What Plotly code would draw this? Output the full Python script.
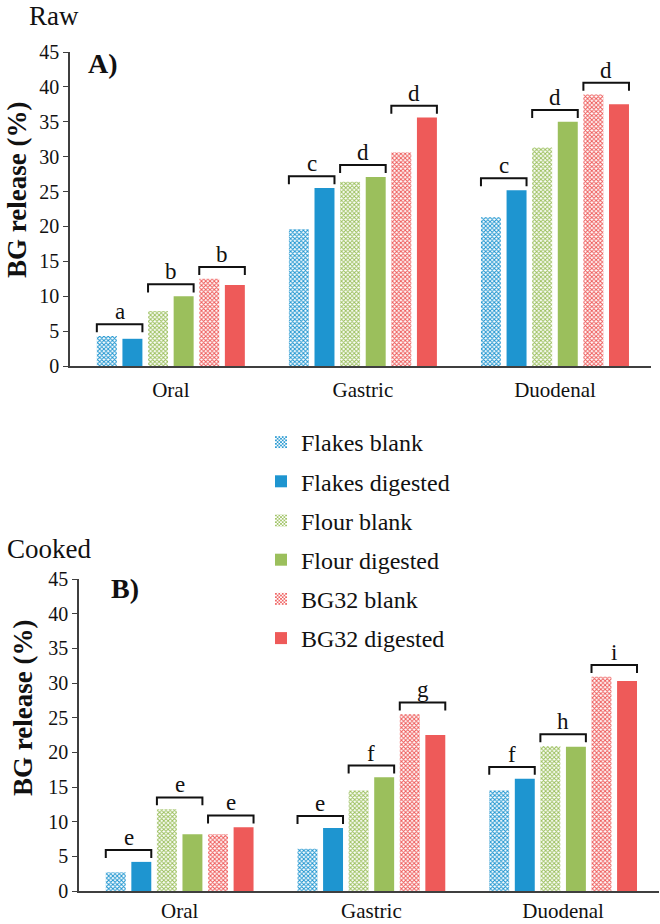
import plotly.graph_objects as go

# ---------------- data ----------------
stages = ["Oral", "Gastric", "Duodenal"]
series_names = ["Flakes blank", "Flakes digested", "Flour blank",
                "Flour digested", "BG32 blank", "BG32 digested"]

# values per series (Oral, Gastric, Duodenal)
raw_flakes_blank = [4.3, 19.6, 21.3]
raw_flakes_digested = [3.9, 25.5, 25.2]
raw_flour_blank = [7.9, 26.4, 31.3]
raw_flour_digested = [10.0, 27.1, 35.0]
raw_bg32_blank = [12.5, 30.6, 38.9]
raw_bg32_digested = [11.6, 35.6, 37.5]

cooked_flakes_blank = [2.7, 6.1, 14.5]
cooked_flakes_digested = [4.2, 9.1, 16.2]
cooked_flour_blank = [11.8, 14.5, 20.9]
cooked_flour_digested = [8.2, 16.4, 20.8]
cooked_bg32_blank = [8.2, 25.5, 30.9]
cooked_bg32_digested = [9.2, 22.5, 30.3]

# significance letters per stage, per pair (flakes, flour, BG32)
raw_letters = [["a", "b", "b"], ["c", "d", "d"], ["c", "d", "d"]]
cooked_letters = [["e", "e", "e"], ["e", "f", "g"], ["f", "h", "i"]]

y_ticks = [0, 5, 10, 15, 20, 25, 30, 35, 40, 45]

# ---------------- styling ----------------
FONT = "Liberation Serif"
BLUE = "#1E95D0"
GREEN = "#9BBF5C"
RED = "#EE5A59"
series_colors = [BLUE, BLUE, GREEN, GREEN, RED, RED]
series_blank = [True, False, True, False, True, False]

BARGAP = 0.2
BARGROUPGAP = 0.22
NSER = 6

raw_series = [raw_flakes_blank, raw_flakes_digested, raw_flour_blank,
              raw_flour_digested, raw_bg32_blank, raw_bg32_digested]
cooked_series = [cooked_flakes_blank, cooked_flakes_digested, cooked_flour_blank,
                 cooked_flour_digested, cooked_bg32_blank, cooked_bg32_digested]

fig = go.Figure()
xpos = list(range(len(stages)))

def add_panel(series, xa, ya, showleg):
    for k, vals in enumerate(series):
        marker = dict(color=series_colors[k], line=dict(width=0))
        if series_blank[k]:
            marker = dict(color="white", line=dict(width=0),
                          pattern=dict(shape="x", size=3, solidity=0.55,
                                       fgcolor=series_colors[k], bgcolor="white",
                                       fillmode="replace"))
        fig.add_trace(go.Bar(x=xpos, y=vals, name=series_names[k], marker=marker,
                             xaxis=xa, yaxis=ya, showlegend=showleg,
                             legendgroup=series_names[k], offsetgroup=str(k)))

add_panel(raw_series, "x", "y", True)
add_panel(cooked_series, "x2", "y2", False)

# brackets computed from bar layout
slot = (1 - BARGAP) / NSER
barw = slot * (1 - BARGROUPGAP)

def bar_center(i, k):
    return i - (1 - BARGAP) / 2 + slot * (k + 0.5)

def add_brackets(series, letters, xa, ya):
    for i in range(len(stages)):
        for p in range(3):
            k1, k2 = 2 * p, 2 * p + 1
            top = max(series[k1][i], series[k2][i]) + 1.7
            xl = bar_center(i, k1) - barw / 2
            xr = bar_center(i, k2) + barw / 2
            fig.add_trace(go.Scatter(x=[xl, xl, xr, xr], y=[top - 1.15, top, top, top - 1.15],
                                     mode="lines", line=dict(color="#111111", width=2),
                                     xaxis=xa, yaxis=ya, showlegend=False, hoverinfo="skip"))
            fig.add_annotation(x=(xl + xr) / 2, y=top, xref=xa, yref=ya,
                               text=letters[i][p], showarrow=False, yanchor="bottom",
                               yshift=-2, font=dict(family=FONT, size=23, color="#111111"))

add_brackets(raw_series, raw_letters, "x", "y")
add_brackets(cooked_series, cooked_letters, "x2", "y2")

H, W = 924, 660
def py(p):
    return 1 - p / H
def px_(p):
    return p / W

xaxis_common = dict(tickvals=xpos, ticktext=stages, showline=True, linecolor="#3f3f3f",
                    linewidth=1.5, ticks="", ticklen=0, showgrid=False, zeroline=False,
                    automargin=False,
                    tickfont=dict(family=FONT, size=21, color="#111111"),
                    range=[-0.525, 2.5])
yaxis_common = dict(range=[0, 45], tickvals=y_ticks, showline=True, linecolor="#3f3f3f",
                    linewidth=1.5, ticks="outside", ticklen=5, tickcolor="#3f3f3f",
                    showgrid=False, zeroline=False, automargin=False,
                    tickfont=dict(family=FONT, size=20, color="#111111"))

fig.update_layout(
    width=W, height=H,
    margin=dict(l=0, r=0, t=0, b=0, autoexpand=False),
    paper_bgcolor="white", plot_bgcolor="white",
    barmode="group", bargap=BARGAP, bargroupgap=BARGROUPGAP,
    xaxis=dict(domain=[px_(70), px_(651)], anchor="y", ticklabelstandoff=4, **xaxis_common),
    yaxis=dict(domain=[py(366), py(52)], anchor="x", **yaxis_common),
    xaxis2=dict(domain=[px_(79), px_(659)], anchor="y2", ticklabelstandoff=0, **xaxis_common),
    yaxis2=dict(domain=[py(891), py(579)], anchor="x2", **yaxis_common),
    legend=dict(x=px_(261), y=py(420), xanchor="left", yanchor="top",
                font=dict(family=FONT, size=24, color="#111111"),
                traceorder="grouped", tracegroupgap=5, bgcolor="rgba(0,0,0,0)"),
    showlegend=True,
)

# panel titles and labels
fig.add_annotation(x=px_(27), y=py(16), xref="paper", yref="paper", text="Raw",
                   showarrow=False, xanchor="left", yanchor="middle",
                   font=dict(family=FONT, size=27, color="#111111"))
fig.add_annotation(x=px_(5), y=py(549), xref="paper", yref="paper", text="Cooked",
                   showarrow=False, xanchor="left", yanchor="middle",
                   font=dict(family=FONT, size=27, color="#111111"))
fig.add_annotation(x=px_(86), y=py(64), xref="paper", yref="paper", text="<b>A)</b>",
                   showarrow=False, xanchor="left", yanchor="middle",
                   font=dict(family=FONT, size=28, color="#111111"))
fig.add_annotation(x=px_(109), y=py(588), xref="paper", yref="paper", text="<b>B)</b>",
                   showarrow=False, xanchor="left", yanchor="middle",
                   font=dict(family=FONT, size=28, color="#111111"))
fig.add_annotation(x=px_(17), y=py(190), xref="paper", yref="paper",
                   text="<b>BG release (%)</b>", textangle=-90, showarrow=False,
                   xanchor="center", yanchor="middle",
                   font=dict(family=FONT, size=27, color="#111111"))
fig.add_annotation(x=px_(23), y=py(708), xref="paper", yref="paper",
                   text="<b>BG release (%)</b>", textangle=-90, showarrow=False,
                   xanchor="center", yanchor="middle",
                   font=dict(family=FONT, size=27, color="#111111"))

# place the figure flush with the page corner (no default body margin)
fig.write_html("out.html", config={"displayModeBar": False},
               post_script="document.body.style.margin='0px';")
